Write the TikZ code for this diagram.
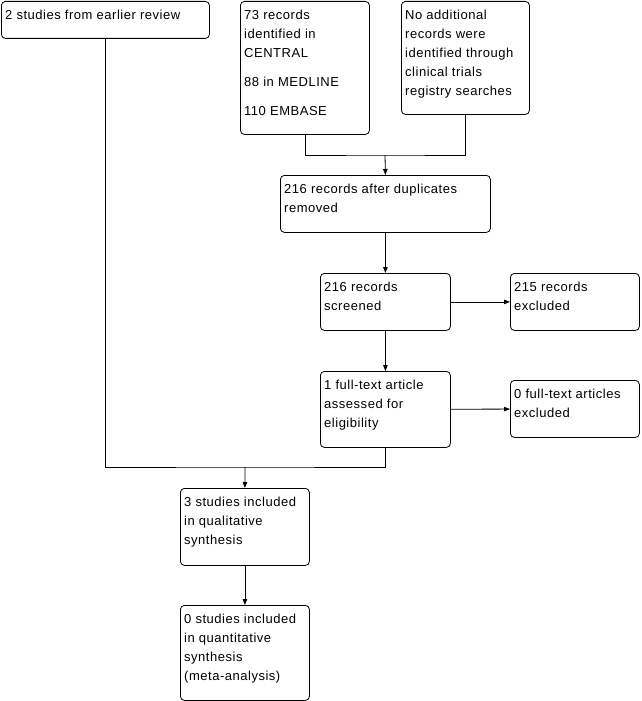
\documentclass[tikz,border=0pt]{standalone}
\usepackage{fontspec}
\setmainfont{Liberation Sans}[LetterSpace=4]
\usepackage{tikz}
\usetikzlibrary{arrows.meta,calc}

\begin{document}
\begin{tikzpicture}[
  x=1pt, y=-1pt,
  >={Triangle[length=6pt,width=4.5pt]},
  box/.style={draw, rounded corners=4pt, line width=0.8pt, anchor=north west,
    inner sep=0pt},
  txt/.style={anchor=north west, align=left, inner xsep=4pt, inner ysep=9pt,
    font=\fontsize{13pt}{19pt}\selectfont},
  e/.style={line width=0.8pt},
]
\useasboundingbox (0,0) rectangle (642,701);

% identification
\node[box, minimum width=208, minimum height=37,
  label={[txt]north west:2 studies from earlier review}] (earlier) at (1,1) {};
\node[box, minimum width=129, minimum height=133,
  label={[txt]north west:73 records\\identified in\\CENTRAL\\[10pt]88 in MEDLINE\\[10pt]110 EMBASE}]
  (central) at (240,1) {};
\node[box, minimum width=128, minimum height=113,
  label={[txt]north west:No additional\\records were\\identified through\\clinical trials\\registry searches}]
  (trials) at (401,1) {};

% screening
\node[box, minimum width=210, minimum height=57,
  label={[txt]north west:216 records after duplicates\\removed}] (dedup) at (280,175) {};
\node[box, minimum width=130, minimum height=57,
  label={[txt]north west:216 records\\screened}] (screened) at (320,273) {};
\node[box, minimum width=129, minimum height=57,
  label={[txt]north west:215 records\\excluded}] (excl) at (510,273) {};

% eligibility
\node[box, minimum width=130, minimum height=76,
  label={[txt]north west:1 full-text article\\assessed for\\eligibility}] (fulltext) at (320,371) {};
\node[box, minimum width=129, minimum height=57,
  label={[txt]north west:0 full-text articles\\excluded}] (ftexcl) at (510,380) {};

% included
\node[box, minimum width=129, minimum height=77,
  label={[txt]north west:3 studies included\\in qualitative\\synthesis}] (qual) at (180,488) {};
\node[box, minimum width=129, minimum height=95,
  label={[txt]north west:0 studies included\\in quantitative\\synthesis\\(meta-analysis)}] (quant) at (180,605) {};

\coordinate (merge) at (385,155);
\coordinate (join) at (245,467);

\draw[e] (central.south) |- (merge) -| (trials.south);
\draw[e,->] (merge) -- (dedup.north);
\draw[e,->] (dedup) -- (screened);
\draw[e,->] (screened) -- (excl);
\draw[e,->] (screened) -- (fulltext);
\draw[e,->] (fulltext) -- (ftexcl);
\draw[e] (earlier.south) |- (join) -| (fulltext.south);
\draw[e,->] (join) -- (qual.north);
\draw[e,->] (qual) -- (quant);
\end{tikzpicture}
\end{document}
